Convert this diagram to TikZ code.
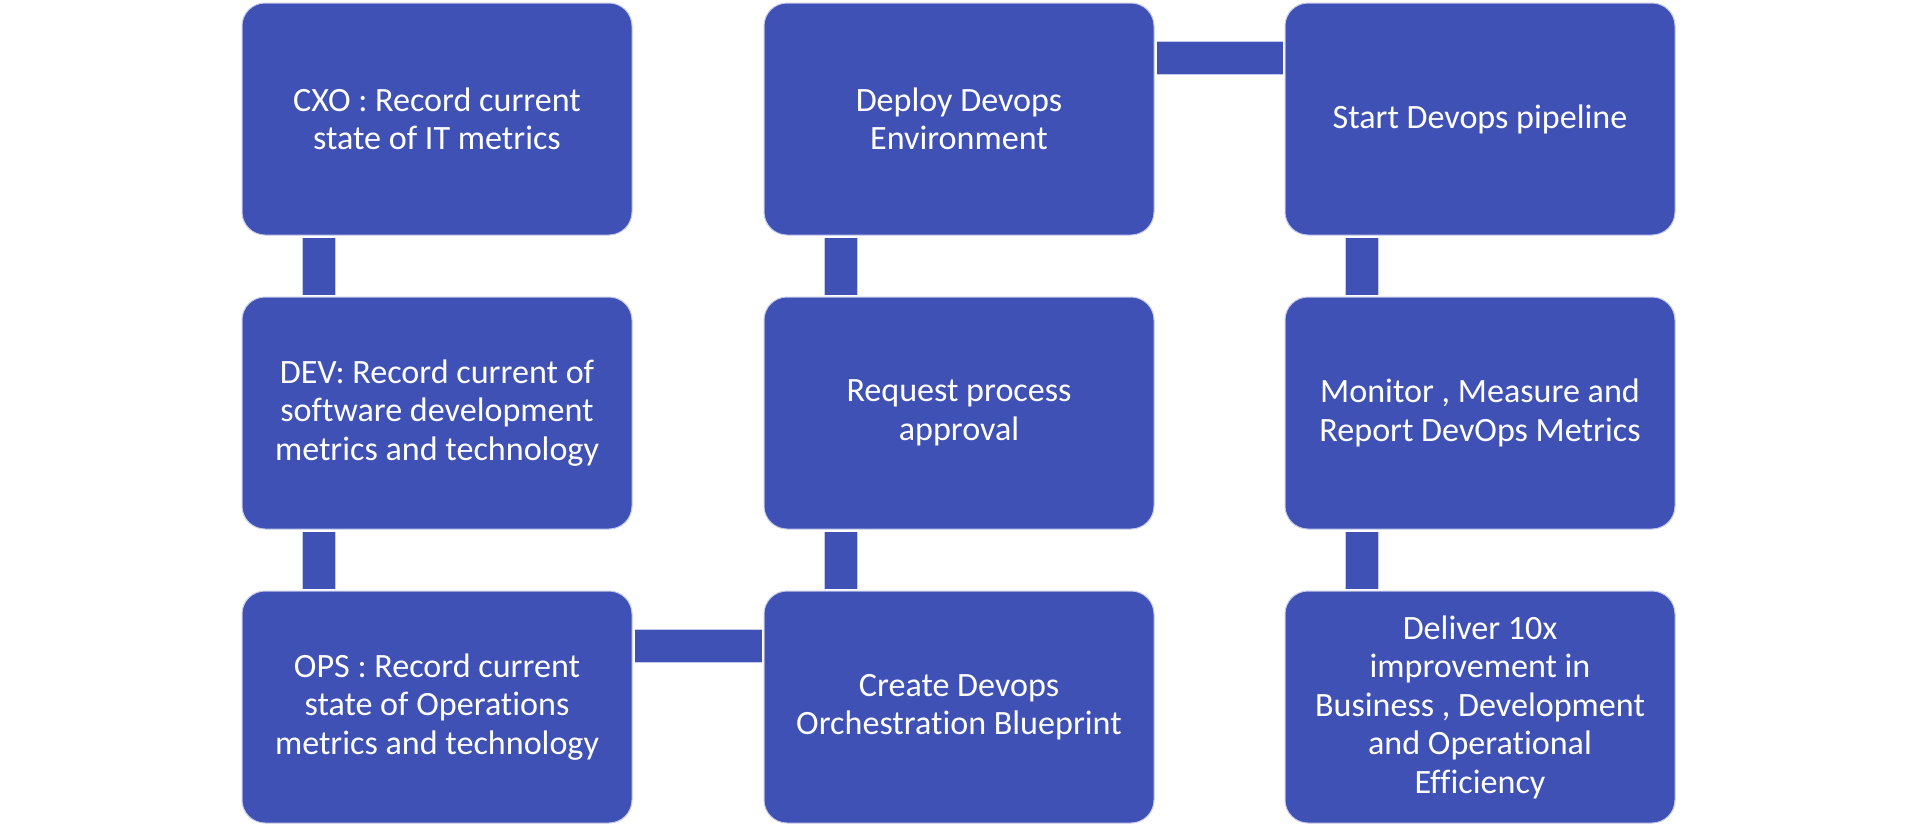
\documentclass[tikz,border=0pt]{standalone}
\usepackage{fontspec}
\setmainfont{Carlito}[Ligatures=CommonOff]
\usepackage{tikz}
\usepackage{xcolor}
\definecolor{boxblue}{HTML}{3F51B5}
\definecolor{rimblue}{HTML}{C5CAE9}

\tikzset{
  stepbox/.style={rectangle, rounded corners=0.46cm, fill=boxblue, draw=rimblue,
    line width=0.02cm, minimum width=7.8cm, minimum height=4.64cm, inner sep=0pt,
    text=white, align=center, font=\fontsize{19.4}{21.9}\selectfont},
  link/.style={draw=rimblue, line width=0.02cm, double=boxblue, double distance=0.64cm,
    shorten <=0.04cm, shorten >=0.04cm}
}

\begin{document}
\begin{tikzpicture}[x=1cm,y=1cm]
\useasboundingbox (0,0) rectangle (38.28,-16.48);
% first column
\node[stepbox] (cxo) at (8.74,-2.38) {CXO : Record current\\state of IT metrics};
\node[stepbox] (dev) at (8.74,-8.26) {DEV: Record current of\\software development\\metrics and technology};
\node[stepbox] (ops) at (8.74,-14.14) {OPS : Record current\\state of Operations\\metrics and technology};
% second column
\node[stepbox] (deploy) at (19.18,-2.38) {Deploy Devops\\Environment};
\node[stepbox] (request) at (19.18,-8.26) {Request process\\approval};
\node[stepbox] (blueprint) at (19.18,-14.14) {Create Devops\\Orchestration Blueprint};
% third column
\node[stepbox] (start) at (29.6,-2.38) {Start Devops pipeline};
\node[stepbox] (monitor) at (29.6,-8.26) {Monitor , Measure and\\Report DevOps Metrics};
\node[stepbox] (deliver) at (29.6,-14.14) {Deliver 10x\\improvement in\\Business , Development\\and Operational\\Efficiency};
% connectors
\draw[link] ([xshift=1.55cm]cxo.south west) -- ([xshift=1.55cm]dev.north west);
\draw[link] ([xshift=1.55cm]dev.south west) -- ([xshift=1.55cm]ops.north west);
\draw[link] ([yshift=-1.11cm]ops.north east) -- ([yshift=-1.11cm]blueprint.north west);
\draw[link] ([xshift=1.55cm]blueprint.north west) -- ([xshift=1.55cm]request.south west);
\draw[link] ([xshift=1.55cm]request.north west) -- ([xshift=1.55cm]deploy.south west);
\draw[link] ([yshift=-1.11cm]deploy.north east) -- ([yshift=-1.11cm]start.north west);
\draw[link] ([xshift=1.55cm]start.south west) -- ([xshift=1.55cm]monitor.north west);
\draw[link] ([xshift=1.55cm]monitor.south west) -- ([xshift=1.55cm]deliver.north west);
\end{tikzpicture}
\end{document}
